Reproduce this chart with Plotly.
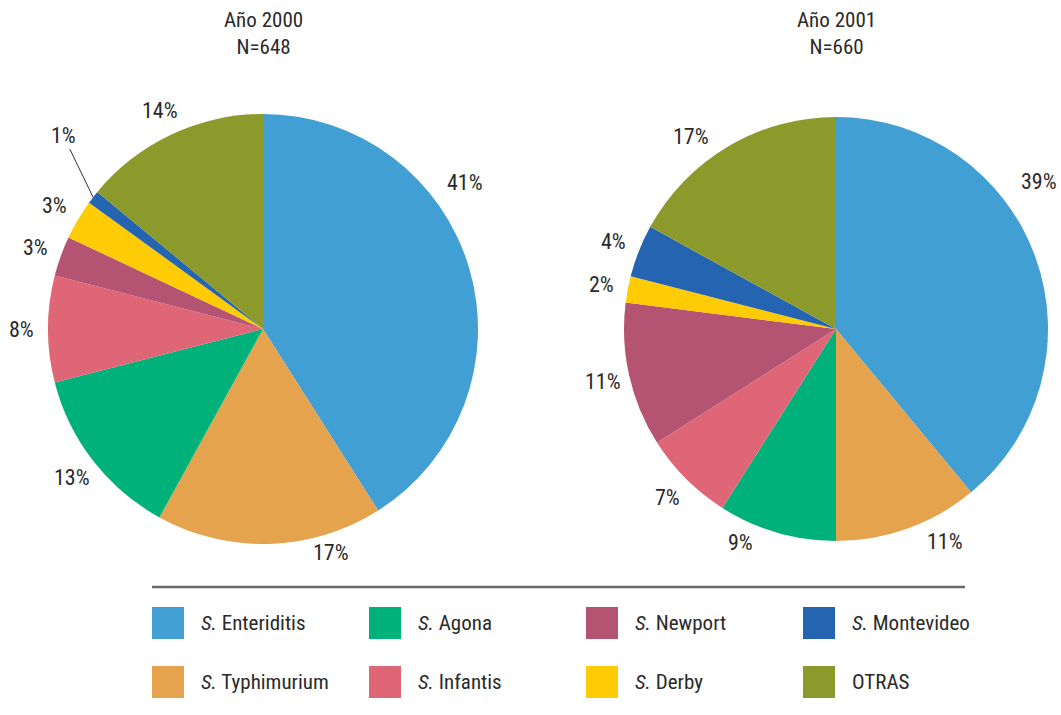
import math
import plotly.graph_objects as go

labels = ["S. Enteriditis", "S. Typhimurium", "S. Agona", "S. Infantis",
          "S. Newport", "S. Derby", "S. Montevideo", "OTRAS"]
colors = ["#419fd3", "#e5a34e", "#00b27a", "#de6676",
          "#b55373", "#ffcb05", "#2464b0", "#8b9a2a"]
vals_2000 = [41, 17, 13, 8, 3, 3, 1, 14]
vals_2001 = [39, 11, 9, 7, 11, 2, 4, 17]
titles = ["Año 2000<br>N=648", "Año 2001<br>N=660"]

# legend layout order (row-wise)
legend_rows = [["S. Enteriditis", "S. Agona", "S. Newport", "S. Montevideo"],
               ["S. Typhimurium", "S. Infantis", "S. Derby", "OTRAS"]]

# label placement overrides: (angle clockwise from 12 o'clock, distance in px)
label_place = [
    {"S. Enteriditis": (54, 250), "S. Typhimurium": (163, 234)},
    {"S. Enteriditis": (54, 251), "S. Typhimurium": (153, 239),
     "S. Agona": (204, 234), "OTRAS": (323, 241)},
]
LABEL_GAP = 27

W, H = 1061, 715
FONT = "Roboto Condensed, Roboto, sans-serif"
TXT = "#2a2a2a"
FS = 21
FS_PCT = 22

def px_x(x):
    return x / W

def px_y(y):
    return 1 - y / H

fig = go.Figure()
annotations = []

pies = [(vals_2000, 263, 329, 215), (vals_2001, 836, 329, 212)]
for pi, (vals, cx, cy, r) in enumerate(pies):
    total = sum(vals)
    for k, (lab, v) in enumerate(zip(labels, vals)):
        frac = (sum(vals[:k]) + v / 2) / total
        if pi == 0 and lab == "S. Montevideo":
            # small slice gets a label with a leader line
            th = 2 * math.pi * frac
            annotations.append(dict(
                text=f"{v}%", x=px_x(cx + r * math.sin(th)), y=px_y(cy - r * math.cos(th)),
                xref="paper", yref="paper", ax=-30, ay=-62, showarrow=True,
                arrowhead=0, arrowwidth=1, arrowcolor="#333", standoff=0,
                font=dict(family=FONT, size=FS_PCT, color=TXT)))
            continue
        ang, dist = label_place[pi].get(lab, (360 * frac, r + LABEL_GAP))
        th = math.radians(ang)
        annotations.append(dict(
            text=f"{v}%", x=px_x(cx + dist * math.sin(th)),
            y=px_y(cy - dist * math.cos(th)), xref="paper", yref="paper",
            xanchor="center", yanchor="middle", showarrow=False,
            font=dict(family=FONT, size=FS_PCT, color=TXT)))
    fig.add_trace(go.Pie(
        labels=labels, values=vals, sort=False, direction="clockwise",
        rotation=0, marker=dict(colors=colors, line=dict(width=0)),
        textinfo="none", showlegend=False,
        domain=dict(x=[px_x(cx - r), px_x(cx + r)],
                    y=[px_y(cy + r), px_y(cy - r)]),
        hoverinfo="label+percent",
    ))

for t, cx in zip(titles, [263, 836]):
    annotations.append(dict(text=t, x=px_x(cx), y=px_y(6), xref="paper", yref="paper",
                            xanchor="center", yanchor="top", showarrow=False,
                            font=dict(family=FONT, size=FS, color=TXT)))

shapes = [dict(type="line", xref="paper", yref="paper",
               x0=px_x(152), x1=px_x(965), y0=px_y(587), y1=px_y(587),
               line=dict(color="#6a6a6a", width=2.5))]

col_x = [152, 369, 586, 803]
row_y = [607, 666]
for ri, row in enumerate(legend_rows):
    for ci, lab in enumerate(row):
        col = colors[labels.index(lab)]
        x0, y0 = col_x[ci], row_y[ri]
        shapes.append(dict(type="rect", xref="paper", yref="paper",
                           x0=px_x(x0), x1=px_x(x0 + 32), y0=px_y(y0 + 32), y1=px_y(y0),
                           fillcolor=col, line=dict(width=0)))
        txt = lab if not lab.startswith("S. ") else "<i>S.</i> " + lab[3:]
        annotations.append(dict(text=txt, x=px_x(x0 + 47), y=px_y(y0 + 16),
                                xref="paper", yref="paper", xanchor="left",
                                yanchor="middle", showarrow=False,
                                font=dict(family=FONT, size=FS, color=TXT)))

fig.update_layout(width=W, height=H, autosize=False,
                  margin=dict(l=0, r=0, t=0, b=0),
                  paper_bgcolor="white", plot_bgcolor="white",
                  annotations=annotations, shapes=shapes,
                  font=dict(family=FONT, color=TXT))

fig.write_html("out.html",
               config={"responsive": False, "displayModeBar": False},
               post_script="document.body.style.margin='0';"
                           "document.body.style.overflow='hidden';")
